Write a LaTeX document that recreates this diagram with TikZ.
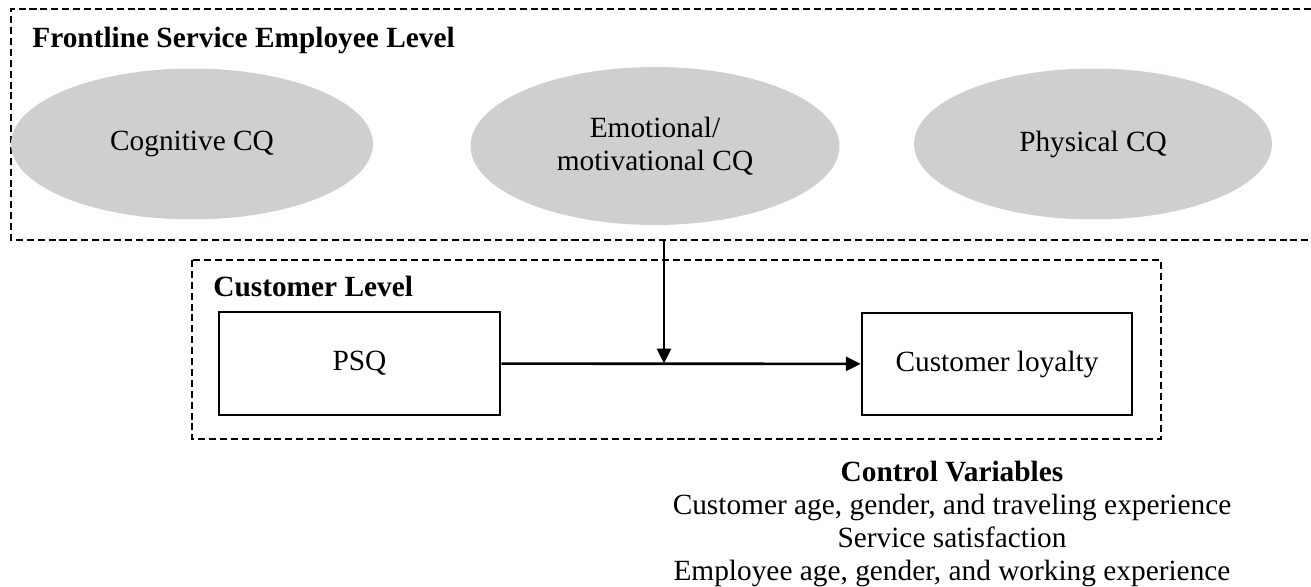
\documentclass[tikz,border=0pt]{standalone}
\usepackage{fontspec}
\setmainfont{Liberation Serif}
\usetikzlibrary{shapes.geometric,arrows.meta}
\definecolor{cqgray}{RGB}{208,206,208}

\begin{document}
\begin{tikzpicture}[x=0.02cm, y=-0.02cm,
	every node/.style={font=\fontsize{16.7}{18.7}\selectfont},
	level/.style={line width=1.25pt, dash pattern=on 4pt off 2.2pt},
	cq/.style={ellipse, fill=cqgray, inner sep=0pt, align=center},
	var/.style={draw, line width=1.5pt, inner sep=0pt},
	link/.style={line width=1.5pt, -{Triangle[length=8.5pt,width=8pt]}}]
			\useasboundingbox (0,0) rectangle (1311,587);
			
			% frontline service employee level
			\draw[level] (1311,9) -- (11,9) -- (11,240) -- (1311,240);
			\node[anchor=base west, inner sep=0pt] (fsel) at (32,48) {\bfseries Frontline Service Employee Level};
			\node[cq, minimum width=7.24cm, minimum height=3.02cm] (cog) at (192,144) {Cognitive CQ};
			\node[cq, minimum width=7.38cm, minimum height=3.16cm] (emo) at (655,146) {Emotional/\\motivational CQ};
			\node[cq, minimum width=7.16cm, minimum height=3.02cm] (phy) at (1093,144) {Physical CQ};
			
			% customer level
			\draw[level] (192,260) rectangle (1161,439);
			\node[anchor=base west, inner sep=0pt] (cl) at (213,297) {\bfseries Customer Level};
			\node[var, minimum width=5.62cm, minimum height=2.06cm] (psq) at (359.5,363.5) {PSQ};
			\node[var, minimum width=5.4cm, minimum height=2.04cm] (loy) at (997,364) {Customer loyalty};
			
			\coordinate (modtop) at (664,240);
			\draw[link] (psq) -- (loy);
			\draw[link] (modtop) -- (modtop |- psq.east);
			
			% controls
			\node[align=center, anchor=north, inner sep=0pt] (ctrl) at (952,461) {{\bfseries Control Variables}\\Customer age, gender, and traveling experience\\Service satisfaction\\Employee age, gender, and working experience};
			\end{tikzpicture}
\end{document}
